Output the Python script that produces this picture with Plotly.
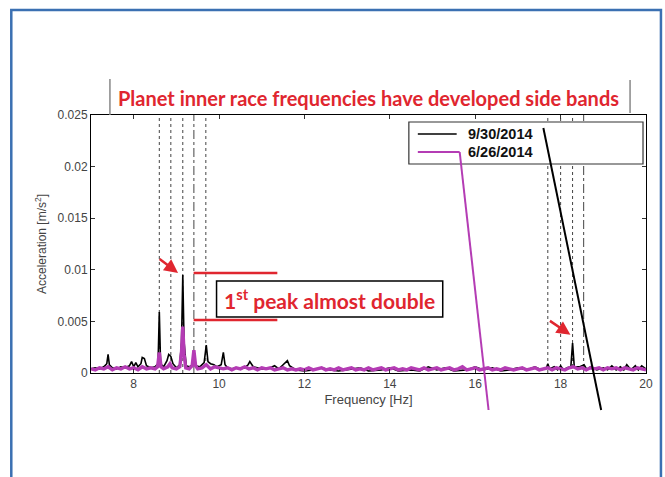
import plotly.graph_objects as go

# ---------------- data ----------------
black_pairs = [
    (7.0, .0004), (7.1, .0005), (7.2, .0004), (7.3, .0006), (7.37, .0009), (7.4, .0018), (7.43, .0008),
    (7.5, .0005), (7.6, .0004), (7.7, .0006), (7.8, .0005), (7.9, .0007), (7.95, .0011), (8.0, .0006),
    (8.05, .0010), (8.1, .0006), (8.17, .0009), (8.2, .0015), (8.25, .0014), (8.3, .0007), (8.4, .0005),
    (8.5, .0006), (8.57, .0009), (8.6, .0059), (8.63, .0009), (8.7, .0006), (8.78, .0012), (8.82, .0018),
    (8.87, .0016), (8.92, .0009), (9.0, .0005), (9.08, .0008), (9.12, .0030), (9.15, .0095), (9.18, .0030),
    (9.23, .0007), (9.3, .0006), (9.38, .0008), (9.41, .0012), (9.45, .0007), (9.55, .0006), (9.65, .0010),
    (9.7, .0027), (9.74, .0011), (9.8, .0009), (9.88, .0008), (9.95, .0006), (10.05, .0008), (10.1, .0020),
    (10.14, .0008), (10.2, .0005), (10.3, .0004), (10.4, .0005), (10.5, .0004), (10.6, .0005), (10.68, .0008),
    (10.72, .0011), (10.8, .0006), (10.9, .0005), (11.0, .0004), (11.1, .0004), (11.2, .0005), (11.3, .0007),
    (11.4, .0004), (11.5, .0008), (11.6, .0012), (11.65, .0007), (11.75, .0004),
    (11.8, .0003), (12.0, .0002), (12.2, .0003), (12.4, .0005), (12.6, .0003), (12.8, .0002), (13.0, .0003),
    (13.3, .0005), (13.5, .0002), (13.8, .0003), (14.0, .0005), (14.2, .0002), (14.5, .0003), (14.7, .0002),
    (14.9, .0006), (15.1, .0003), (15.3, .0005), (15.5, .0002), (15.8, .0003), (16.0, .0006), (16.2, .0003),
    (16.4, .0005), (16.6, .0002), (16.8, .0003), (17.0, .0005), (17.2, .0003), (17.4, .0006), (17.55, .0003),
    (17.67, .0005), (17.7, .0009), (17.74, .0004), (17.85, .0006), (17.93, .0003), (18.0, .0007), (18.07, .0003),
    (18.15, .0005), (18.24, .0006), (18.28, .0029), (18.32, .0006), (18.45, .0006), (18.55, .0008), (18.62, .0003),
    (18.7, .0006), (18.85, .0003), (19.0, .0005), (19.1, .0003), (19.2, .0007), (19.3, .0003), (19.4, .0006),
    (19.48, .0003), (19.55, .0008), (19.65, .0003), (19.75, .0007), (19.82, .0003), (19.9, .0007), (20.0, .0004),
]
magenta_pairs = [
    (7.0, .0004), (7.1, .0003), (7.2, .0005), (7.3, .0004), (7.4, .0006), (7.5, .0003), (7.6, .0005),
    (7.7, .0004), (7.8, .0006), (7.9, .0004), (8.0, .0005), (8.1, .0003), (8.2, .0006), (8.3, .0004),
    (8.4, .0005), (8.5, .0004), (8.56, .0006), (8.6, .0020), (8.64, .0006), (8.7, .0004), (8.8, .0006),
    (8.85, .0009), (8.9, .0005), (9.0, .0004), (9.08, .0006), (9.12, .0020), (9.15, .0045), (9.18, .0018),
    (9.22, .0005), (9.3, .0004), (9.37, .0007), (9.41, .0022), (9.45, .0007), (9.5, .0004), (9.6, .0005),
    (9.7, .0008), (9.8, .0004), (9.9, .0006),
    (10.0, .0005), (10.1, .0004), (10.2, .0005), (10.3, .0003), (10.4, .0005), (10.5, .0004), (10.6, .0006),
    (10.7, .0004), (10.8, .0005), (10.9, .0003), (11.0, .0005), (11.1, .0004), (11.2, .0005), (11.3, .0003),
    (11.4, .0004), (11.5, .0005), (11.6, .0003), (11.7, .0004), (11.8, .0003), (11.9, .0004), (12.0, .0003),
    (12.1, .0005), (12.2, .0003), (12.3, .0004), (12.4, .0005), (12.5, .0003), (12.6, .0004), (12.7, .0003),
    (12.8, .0005), (12.9, .0003), (13.0, .0004), (13.1, .0005), (13.2, .0003), (13.3, .0004), (13.4, .0003),
    (13.5, .0005), (13.6, .0003), (13.7, .0004), (13.8, .0005), (13.9, .0003), (14.0, .0004), (14.1, .0005),
    (14.2, .0003), (14.3, .0004), (14.4, .0003), (14.5, .0005), (14.6, .0004), (14.7, .0003), (14.8, .0005),
    (14.9, .0003), (15.0, .0004), (15.1, .0005), (15.2, .0003), (15.3, .0004), (15.4, .0005), (15.5, .0003),
    (15.6, .0004), (15.7, .0006), (15.8, .0003), (15.9, .0004), (16.0, .0005), (16.1, .0003), (16.2, .0004),
    (16.3, .0005), (16.4, .0003), (16.5, .0004), (16.6, .0003), (16.7, .0005), (16.8, .0004), (16.9, .0003),
    (17.0, .0004), (17.1, .0005), (17.2, .0003), (17.3, .0004), (17.4, .0005), (17.5, .0003), (17.6, .0004),
    (17.7, .0005), (17.8, .0003), (17.9, .0005), (18.0, .0004), (18.1, .0003), (18.2, .0005), (18.3, .0006),
    (18.4, .0004), (18.5, .0005), (18.6, .0003), (18.7, .0005), (18.8, .0004), (18.9, .0005), (19.0, .0003),
    (19.1, .0005), (19.2, .0004), (19.3, .0005), (19.4, .0003), (19.5, .0005), (19.6, .0004), (19.7, .0003),
    (19.8, .0005), (19.9, .0004), (20.0, .0003),
]
black_freq = [p[0] for p in black_pairs]
black_amp = [p[1] for p in black_pairs]
mag_freq = [p[0] for p in magenta_pairs]
mag_amp = [p[1] for p in magenta_pairs]

series_names = ["9/30/2014", "6/26/2014"]
marker_freqs_dot = [8.60, 8.87, 9.15, 9.69, 17.70, 18.00, 18.28]
marker_freqs_dashdot = [9.41, 18.54]
x_ticks = [8, 10, 12, 14, 16, 18, 20]
y_ticks = [0, 0.005, 0.01, 0.015, 0.02, 0.025]
y_tick_text = ["0", "0.005", "0.01", "0.015", "0.02", "0.025"]
peak_old, peak_new = 0.0097, 0.00514

# ---------------- geometry helpers ----------------
W, H = 665, 477
L, R, T, B = 91, 17, 115, 104
PW, PH = W - L - R, H - T - B


def px(x):
    return (x - L) / PW


def py(y):
    return (H - B - y) / PH


RED = "#e0262f"
MAG = "#b43cb4"

fig = go.Figure()
fig.add_trace(go.Scatter(x=black_freq, y=black_amp, mode="lines", name=series_names[0],
                         line=dict(color="black", width=1.6), showlegend=False))
fig.add_trace(go.Scatter(x=mag_freq, y=mag_amp, mode="lines", name=series_names[1],
                         line=dict(color=MAG, width=3.4), showlegend=False))

shapes = []
for f in marker_freqs_dot:
    shapes.append(dict(type="line", xref="x", yref="y", x0=f, x1=f, y0=0, y1=0.025,
                       line=dict(color="#444", width=1, dash="dot"), layer="below"))
for f in marker_freqs_dashdot:
    shapes.append(dict(type="line", xref="x", yref="y", x0=f, x1=f, y0=0, y1=0.025,
                       line=dict(color="#444", width=1, dash="dashdot"), layer="below"))
# red comparison lines
for yv in (peak_old, peak_new):
    shapes.append(dict(type="line", xref="paper", yref="y", x0=px(194), x1=px(278), y0=yv, y1=yv,
                       line=dict(color=RED, width=2.5)))
# "1st peak" box
shapes.append(dict(type="rect", xref="paper", yref="paper", x0=px(217), x1=px(444), y0=py(317), y1=py(281),
                   line=dict(color="black", width=1.5), fillcolor="white"))
# title box sides
shapes.append(dict(type="line", xref="paper", yref="paper", x0=px(110), x1=px(110), y0=py(115), y1=py(79),
                   line=dict(color="#888", width=1.5)))
shapes.append(dict(type="line", xref="paper", yref="paper", x0=px(632), x1=px(632), y0=py(113), y1=py(80),
                   line=dict(color="#888", width=1.5)))
# legend box
shapes.append(dict(type="rect", xref="paper", yref="paper", x0=px(410), x1=px(645), y0=py(164), y1=py(122),
                   line=dict(color="#333", width=1.2), fillcolor="white"))
shapes.append(dict(type="line", xref="paper", yref="paper", x0=px(419), x1=px(458), y0=py(134), y1=py(134),
                   line=dict(color="black", width=1.6)))
shapes.append(dict(type="line", xref="paper", yref="paper", x0=px(419), x1=px(461), y0=py(152), y1=py(152),
                   line=dict(color=MAG, width=2)))
# stray legend lines
shapes.append(dict(type="line", xref="paper", yref="paper", x0=px(461), x1=px(490), y0=py(152), y1=py(410),
                   line=dict(color=MAG, width=2)))
shapes.append(dict(type="line", xref="paper", yref="paper", x0=px(545), x1=px(603), y0=py(128), y1=py(410),
                   line=dict(color="black", width=2)))
# blue frame
shapes.append(dict(type="rect", xref="paper", yref="paper", x0=px(11), x1=px(663), y0=py(520), y1=py(10),
                   line=dict(color="#3b70b2", width=2.5), fillcolor="rgba(0,0,0,0)"))

annotations = [
    dict(xref="paper", yref="paper", x=px(369), y=py(98), text="<b>Planet inner race frequencies have developed side bands</b>",
         showarrow=False, font=dict(family="Lato", size=20, color=RED), xanchor="center", yanchor="middle"),
    dict(xref="paper", yref="paper", x=px(330), y=py(299), text="<b>1<sup>st</sup> peak almost double</b>",
         showarrow=False, font=dict(family="Lato", size=21, color=RED), xanchor="center", yanchor="middle"),
    dict(xref="paper", yref="paper", x=px(467), y=py(134), text="<b>" + series_names[0] + "</b>", showarrow=False,
         font=dict(family="Liberation Sans", size=14.5, color="#111"), xanchor="left", yanchor="middle"),
    dict(xref="paper", yref="paper", x=px(467), y=py(152), text="<b>" + series_names[1] + "</b>", showarrow=False,
         font=dict(family="Liberation Sans", size=14.5, color="#111"), xanchor="left", yanchor="middle"),
    dict(x=9.04, y=0.0097, xref="x", yref="y", ax=-20, ay=-15, text="", showarrow=True,
         arrowhead=2, arrowsize=1.1, arrowwidth=2.5, arrowcolor=RED),
    dict(x=18.23, y=0.0037, xref="x", yref="y", ax=-22, ay=-15, text="", showarrow=True,
         arrowhead=2, arrowsize=1.1, arrowwidth=2.5, arrowcolor=RED),
]

axis_font = dict(family="Liberation Sans", size=12, color="#444")
fig.update_layout(
    width=W, height=H, margin=dict(l=L, r=R, t=T, b=B),
    paper_bgcolor="white", plot_bgcolor="white",
    shapes=shapes, annotations=annotations, showlegend=False,
    xaxis=dict(range=[7, 20], tickvals=x_ticks, ticks="inside", ticklen=4, tickcolor="#333",
               showline=True, linecolor="black", linewidth=1, mirror="ticks", showgrid=False, zeroline=False,
               tickfont=axis_font,
               title=dict(text="Frequency [Hz]", font=dict(family="Liberation Sans", size=13, color="#444"), standoff=4)),
    yaxis=dict(range=[0, 0.025], tickvals=y_ticks, ticktext=y_tick_text, ticks="inside", ticklen=4,
               tickcolor="#333", showline=True, linecolor="black", linewidth=1, mirror="ticks",
               showgrid=False, zeroline=False, tickfont=axis_font,
               title=dict(text="Acceleration [m/s<sup>2</sup>]", font=dict(family="Liberation Sans", size=12, color="#444"), standoff=8)),
)

fig.write_html("out.html")
